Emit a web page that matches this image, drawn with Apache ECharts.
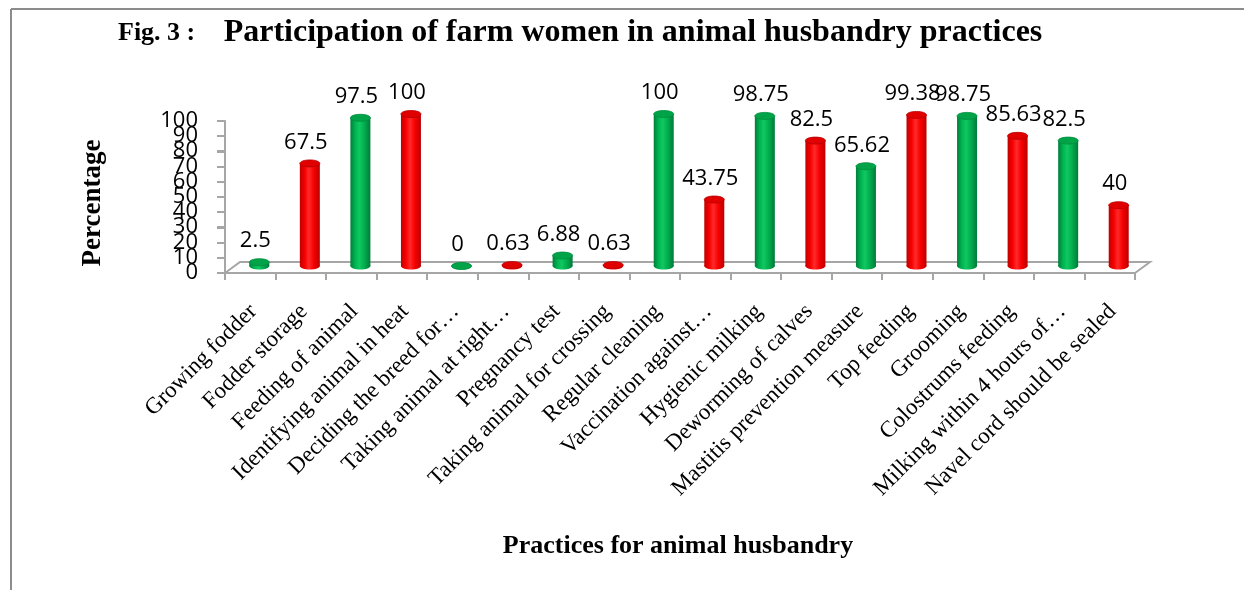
<!DOCTYPE html>
<html>
<head>
<meta charset="utf-8">
<script src="https://cdn.jsdelivr.net/npm/echarts@6/dist/echarts.min.js"></script>
<style>
html,body{margin:0;padding:0;background:#fff;}
#c{width:1244px;height:590px;}
</style>
</head>
<body>
<div id="c"></div>
<script>
const categories = [
  "Growing fodder", "Fodder storage", "Feeding of animal", "Identifying animal in heat",
  "Deciding the breed for\u2026", "Taking animal at right\u2026", "Pregnancy test",
  "Taking animal for crossing", "Regular cleaning", "Vaccination against\u2026",
  "Hygienic milking", "Deworming of calves", "Mastitis prevention measure", "Top feeding",
  "Grooming", "Colostrums feeding", "Milking within 4 hours of\u2026", "Navel cord should be sealed"
];
const values = [2.5, 67.5, 97.5, 100, 0, 0.63, 6.88, 0.63, 100, 43.75, 98.75, 82.5, 65.62, 99.38, 98.75, 85.63, 82.5, 40];
const yMin = 0, yMax = 100, yStep = 10;
const yTickLabels = ["0", "10", "20", "30", "40", "50", "60", "70", "80", "90", "100"];
const titleText = "Participation of farm women in animal husbandry practices";
const figText = "Fig. 3 :";
const yTitle = "Percentage";
const xTitle = "Practices for animal husbandry";

const GREEN = {
  body: [[0,'#007F38'],[0.25,'#00B552'],[0.45,'#10C860'],[0.7,'#00AD4D'],[1,'#00793A']],
  top: '#00A347', rim: '#008E3E'
};
const RED = {
  body: [[0,'#C00000'],[0.25,'#F80000'],[0.45,'#FF2A2A'],[0.7,'#F60000'],[1,'#BA0000']],
  top: '#E00000', rim: '#B80000'
};
const DX = 9, DY = -7, RX = 10, RY = 3.5;
const FX = 15, FY = -11;
const AXIS_GRAY = '#A6A6A6';

function grad(stops){
  return {type:'linear', x:0, y:0, x2:1, y2:0, colorStops: stops.map(s=>({offset:s[0], color:s[1]}))};
}

const chart = echarts.init(document.getElementById('c'), null, {renderer:'canvas'});

const option = {
  animation: false,
  backgroundColor: '#fff',
  grid: {left: 225, right: 109, top: 121, bottom: 317, outerBoundsMode: 'none', containLabel: false},
  xAxis: {
    type: 'category',
    data: categories,
    boundaryGap: true,
    axisLine: {show: true, lineStyle: {color: AXIS_GRAY, width: 2}},
    axisTick: {show: true, length: 7, interval: 0, alignWithLabel: false, lineStyle: {color: AXIS_GRAY, width: 2}},
    axisLabel: {show: false},
    splitLine: {show: false}
  },
  yAxis: {
    type: 'value',
    min: yMin, max: yMax, interval: yStep,
    axisLine: {show: true, onZero: false, lineStyle: {color: AXIS_GRAY, width: 2}},
    axisTick: {show: true, length: 8, inside: false, lineStyle: {color: AXIS_GRAY, width: 2}},
    axisLabel: {show: false},
    splitLine: {show: false}
  },
  graphic: [
    {type:'line', shape:{x1:11, y1:9, x2:1244, y2:9}, style:{stroke:'#8C8C8C', lineWidth:2}},
    {type:'line', shape:{x1:11, y1:9, x2:11, y2:590}, style:{stroke:'#8C8C8C', lineWidth:2}},
    {type:'text', x:118, y:33, style:{text: figText, font:'bold 26px "Liberation Serif"', fill:'#000', align:'left', verticalAlign:'middle'}},
    {type:'text', x:633, y:33, style:{text: titleText, font:'bold 32px "Liberation Serif"', fill:'#000', align:'center', verticalAlign:'middle'}},
    {type:'text', x:93, y:203, rotation: Math.PI/2, style:{text: yTitle, font:'bold 27px "Liberation Serif"', fill:'#000', align:'center', verticalAlign:'middle'}},
    {type:'text', x:678, y:546, style:{text: xTitle, font:'bold 26px "Liberation Serif"', fill:'#000', align:'center', verticalAlign:'middle'}}
  ],
  series: [
    {
      type: 'custom',
      name: 'frame',
      z: 1,
      data: [[0, 0]],
      renderItem: function(params, api){
        const bw = api.size([1, 0])[0];
        const p0 = api.coord([0, yMin]);
        const p1 = api.coord([categories.length - 1, yMin]);
        const x0 = p0[0] - bw/2, x1 = p1[0] + bw/2, y0 = p0[1];
        const yTop = api.coord([0, yMax])[1];
        const children = [
          {type: 'polyline', shape: {points: [[x0, y0], [x0 + FX, y0 + FY], [x1 + FX, y0 + FY], [x1, y0]]},
           style: {stroke: AXIS_GRAY, lineWidth: 2, fill: null}},
          {type: 'line', shape: {x1: x0, y1: yTop, x2: x0, y2: y0 + 1}, style: {stroke: AXIS_GRAY, lineWidth: 2}}
        ];
        yTickLabels.forEach(function(lbl, k){
          const t = yMin + k * yStep;
          const ty = Math.round(api.coord([0, t])[1]);
          children.push({type: 'line', shape: {x1: x0 - 8, y1: ty, x2: x0, y2: ty}, style: {stroke: AXIS_GRAY, lineWidth: 2}});
          children.push({type: 'text', style: {text: lbl, x: x0 - 27, y: ty, align: 'right', verticalAlign: 'middle',
            font: '22px "Open Sans"', fill: '#000'}});
        });
        return {type: 'group', children: children};
      }
    },
    {
      type: 'custom',
      name: 'bars',
      z: 3,
      data: values.map((v, i) => [i, v]),
      encode: {x: 0, y: 1},
      renderItem: function(params, api){
        const i = api.value(0), v = api.value(1);
        const p = api.coord([i, v]);
        const b = api.coord([i, 0]);
        const cx = p[0] + DX, top = p[1] + DY, base = b[1] + DY;
        const c = (i % 2 === 0) ? GREEN : RED;
        return {
          type: 'group',
          children: [
            {type:'ellipse', shape:{cx: cx, cy: base, rx: RX, ry: RY}, style:{fill: grad(c.body)}},
            {type:'rect', shape:{x: cx - RX, y: top, width: RX*2, height: Math.max(0, base - top)}, style:{fill: grad(c.body)}},
            {type:'ellipse', shape:{cx: cx, cy: top, rx: RX, ry: RY}, style:{fill: c.top, stroke: c.rim, lineWidth: 0.8}},
            {type:'text', style:{text: String(v), x: cx - 4, y: top - 21, align:'center', verticalAlign:'middle', font:'22px "Open Sans"', fill:'#000'}}
          ]
        };
      }
    },
    {
      type: 'custom',
      name: 'xlabels',
      z: 4,
      data: categories.map((c, i) => [i, 0]),
      renderItem: function(params, api){
        const i = api.value(0);
        const p = api.coord([i, 0]);
        return {
          type: 'text',
          x: p[0] + 3,
          y: p[1] + 35,
          rotation: Math.PI/4,
          style: {text: categories[i], x: 0, y: 0, align: 'right', verticalAlign: 'middle', font: '23px "Liberation Serif"', fill: '#000'}
        };
      }
    }
  ]
};
chart.setOption(option);
</script>
</body>
</html>
